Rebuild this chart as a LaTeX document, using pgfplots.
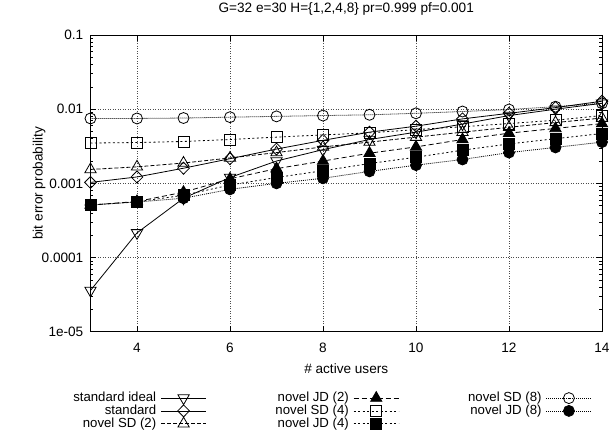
\documentclass[border=0pt]{standalone}
\usepackage{fontspec}
\setmainfont{Liberation Sans}
\usepackage{pgfplots}
\pgfplotsset{compat=1.18}

\begin{document}
\fontsize{13.6}{16}\selectfont
\begin{tikzpicture}
\useasboundingbox (-90.5pt,-100.3pt) rectangle (523.5pt,331.7pt);
\begin{axis}[
  scale only axis, width=511.5pt, height=296.7pt,
  ymode=log, xmin=3, xmax=14, ymin=1e-5, ymax=0.1,
  clip=false,
  xtick={4,6,8,10,12,14},
  ytick={1e-5,1e-4,1e-3,1e-2,1e-1},
  yticklabels={1e-05,0.0001,0.001,0.01,0.1},
  /pgf/number format/assume math mode=true,
  axis line style={line width=1pt},
  major tick length=6pt, minor tick length=3pt,
  every tick/.style={black, line width=0.6pt},
  grid=major,
  major grid style={black!70, line width=0.5pt, dash pattern=on 1pt off 1.5pt},
  xticklabel style={anchor=base, yshift=-20.9pt},
  yticklabel style={anchor=east, inner sep=0pt, xshift=-7pt},
  title={G=32 e=30 H=\{1,2,4,8\} pr=0.999 pf=0.001},
  title style={at={(axis description cs:0.5,1.055)}, anchor=base},
  xlabel={\# active users},
  xlabel style={at={(axis description cs:0.5,-0.1409)}, anchor=base},
  ylabel={bit error probability},
  ylabel style={at={(axis description cs:-0.1007,0.5)}, anchor=center},
  legend plot pos=right,
  legend columns=3, transpose legend,
  legend style={at={(axis description cs:-0.038,-0.1968)}, anchor=north west,
    draw=none, fill=none, inner sep=0pt, font=\fontsize{13.2}{15}\selectfont,
    row sep=-2.8pt, cells={anchor=east, inner ysep=0.3pt},
    /tikz/column 1/.style={column sep=2.5pt},
    /tikz/column 2/.style={column sep=67pt},
    /tikz/column 3/.style={column sep=2.5pt},
    /tikz/column 4/.style={column sep=67pt},
    /tikz/column 5/.style={column sep=2.5pt}},
  legend image code/.code={\draw[mark repeat=2,mark phase=2,#1]
    plot coordinates {(0pt,0pt) (22.5pt,0pt) (45pt,0pt)};},
  every axis plot/.append style={black, line width=0.8pt},
]
\addplot[solid, mark=triangle, mark size=6.5pt, mark options={solid, rotate=180}] coordinates
  {(3,3.6e-5)(4,2.15e-4)(5,6.3e-4)(6,1.2e-3)(7,2.0e-3)(8,2.85e-3)(9,3.9e-3)(10,4.9e-3)(11,6.3e-3)(12,8.2e-3)(13,1.0e-2)(14,1.2e-2)};
\addlegendentry{standard ideal}
\addplot[solid, mark=diamond, mark size=6pt, mark options={solid, xscale=1.3}] coordinates
  {(3,1.03e-3)(4,1.22e-3)(5,1.6e-3)(6,2.15e-3)(7,2.9e-3)(8,3.8e-3)(9,4.9e-3)(10,5.9e-3)(11,7.4e-3)(12,8.8e-3)(13,1.05e-2)(14,1.28e-2)};
\addlegendentry{standard}
\addplot[dash pattern=on 4pt off 2pt, mark=triangle, mark size=6.5pt, mark options={solid}] coordinates
  {(3,1.54e-3)(4,1.67e-3)(5,1.88e-3)(6,2.2e-3)(7,2.6e-3)(8,3.1e-3)(9,3.6e-3)(10,4.2e-3)(11,4.9e-3)(12,5.7e-3)(13,6.6e-3)(14,7.6e-3)};
\addlegendentry{novel SD (2)}
\addplot[dash pattern=on 5pt off 3pt, mark=triangle*, mark size=6.5pt, mark options={solid}] coordinates
  {(3,5.1e-4)(4,5.7e-4)(5,7.6e-4)(6,1.15e-3)(7,1.58e-3)(8,2.0e-3)(9,2.55e-3)(10,3.1e-3)(11,3.9e-3)(12,4.75e-3)(13,5.5e-3)(14,6.4e-3)};
\addlegendentry{novel JD (2)}
\addplot[dash pattern=on 2pt off 2.5pt, mark=square, mark size=5.5pt, mark options={solid}] coordinates
  {(3,3.5e-3)(4,3.55e-3)(5,3.67e-3)(6,3.9e-3)(7,4.2e-3)(8,4.5e-3)(9,4.8e-3)(10,5.3e-3)(11,5.8e-3)(12,6.4e-3)(13,7.1e-3)(14,8.2e-3)};
\addlegendentry{novel SD (4)}
\addplot[dash pattern=on 2pt off 2.5pt, mark=square*, mark size=5.5pt, mark options={solid}] coordinates
  {(3,5.1e-4)(4,5.65e-4)(5,6.9e-4)(6,9.5e-4)(7,1.2e-3)(8,1.48e-3)(9,1.85e-3)(10,2.25e-3)(11,2.8e-3)(12,3.4e-3)(13,4.0e-3)(14,4.7e-3)};
\addlegendentry{novel JD (4)}
\addplot[dash pattern=on 1pt off 1pt, mark=o, mark size=5.5pt, mark options={solid}] coordinates
  {(3,7.5e-3)(4,7.5e-3)(5,7.6e-3)(6,7.8e-3)(7,8.0e-3)(8,8.2e-3)(9,8.4e-3)(10,8.8e-3)(11,9.3e-3)(12,9.9e-3)(13,1.08e-2)(14,1.2e-2)};
\addlegendentry{novel SD (8)}
\addplot[dash pattern=on 1pt off 1pt, mark=*, mark size=5.5pt, mark options={solid}] coordinates
  {(3,5.1e-4)(4,5.6e-4)(5,6.3e-4)(6,8.3e-4)(7,1.0e-3)(8,1.17e-3)(9,1.45e-3)(10,1.76e-3)(11,2.1e-3)(12,2.6e-3)(13,3.05e-3)(14,3.6e-3)};
\addlegendentry{novel JD (8)}
\end{axis}
\end{tikzpicture}
\end{document}
